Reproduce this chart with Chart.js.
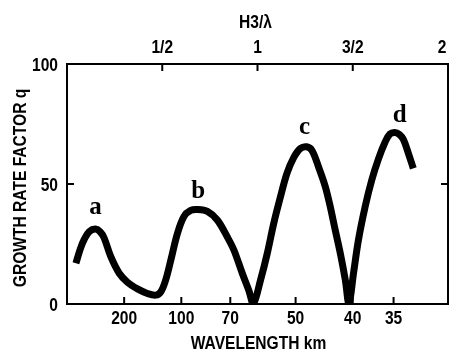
<!DOCTYPE html>
<html>
<head>
<meta charset="utf-8">
<script src="https://cdn.jsdelivr.net/npm/chart.js@4/dist/chart.umd.min.js"></script>
<style>
  html, body { margin: 0; padding: 0; background: #fff; }
</style>
</head>
<body>
<canvas id="myChart" width="451" height="354"></canvas>
<script>
//---------------DATA-------------
// scale height H3 in km, the top axis is H3/lambda
let H3 = 60;
// positions along the curve in H3/lambda, and the growth rate q there
let hx = [0.047, 0.07, 0.091, 0.117, 0.15, 0.175, 0.195, 0.23, 0.274, 0.318, 0.37, 0.422, 0.466, 0.492,
  0.518, 0.545, 0.58, 0.614, 0.649, 0.684, 0.737, 0.789, 0.841, 0.876, 0.92, 0.955, 0.978,
  1.016, 1.051, 1.085, 1.12, 1.155, 1.19, 1.225, 1.258, 1.286, 1.321, 1.356, 1.382, 1.408, 1.435, 1.461, 1.48,
  1.504, 1.53, 1.565, 1.6, 1.635, 1.67, 1.695, 1.72, 1.745, 1.766, 1.792, 1.818];
let growth = [17, 23, 27, 30.2, 31.2, 30, 27.5, 19.7, 12.8, 9, 6.3, 4.4, 3.7, 5,
  10, 18.3, 29.5, 36.5, 39, 39.4, 38.6, 35, 28, 22.5, 12.8, 5.5, 0,
  10, 21, 33.5, 44.5, 54.5, 61, 64.8, 65.5, 64, 57, 48.9, 40.5, 30.8, 21, 10, 0,
  12.8, 26.7, 40.5, 51.7, 60.5, 67.5, 70.8, 71.5, 70.6, 68.5, 62.8, 56.5];

let wavelengthTicks = [200, 100, 70, 50, 40, 35];
let topTicks = [0.5, 1, 1.5, 2];
let topTickLabels = ["1/2", "1", "3/2", "2"];
let yTicks = [0, 50, 100];
let peakLabels = ["a", "b", "c", "d"];
let xTitle = "WAVELENGTH km";
let topTitle = "H3/λ";
let yTitle = "GROWTH RATE FACTOR q";

//---------------STYLE-------------
let labelFont = "bold 19px 'Liberation Sans', Arial, sans-serif";
let squeeze = 0.82; // narrow lettering
let capHalf = 6.8;  // half the cap height, for centring caps on a point
// small nudges for the peak letters [dx, dy] in px
let letterNudge = [[0, -15], [1, -11], [-2, -13], [5, -10]];

// condensed text: x,y is the anchor on the baseline
function narrowText(ctx, text, x, y, align, rot) {
  ctx.save();
  ctx.translate(x, y);
  if (rot) ctx.rotate(rot);
  ctx.scale(squeeze, 1);
  ctx.textAlign = align;
  ctx.textBaseline = "alphabetic";
  ctx.fillText(text, 0, 0);
  ctx.restore();
}

// frame, inward tick marks, axis lettering and the peak letters
const frameTicks = {
  id: "frameTicks",
  afterDraw(chart) {
    const { ctx, chartArea: a, scales } = chart;
    ctx.save();
    ctx.strokeStyle = "#000";
    ctx.fillStyle = "#000";
    ctx.lineWidth = 2;
    ctx.strokeRect(a.left, a.top, a.right - a.left, a.bottom - a.top);
    ctx.beginPath();
    scales.x.ticks.forEach((t) => {
      let px = scales.x.getPixelForValue(t.value);
      ctx.moveTo(px, a.bottom);
      ctx.lineTo(px, a.bottom - 7);
    });
    scales.x2.ticks.forEach((t) => {
      let px = scales.x2.getPixelForValue(t.value);
      ctx.moveTo(px, a.top);
      ctx.lineTo(px, a.top + 7);
    });
    scales.y.ticks.forEach((t) => {
      let py = scales.y.getPixelForValue(t.value);
      ctx.moveTo(a.left, py);
      ctx.lineTo(a.left + 7, py);
      ctx.moveTo(a.right, py);
      ctx.lineTo(a.right - 7, py);
    });
    ctx.stroke();

    // tick labels
    ctx.font = labelFont;
    scales.x.ticks.forEach((t, i) => {
      narrowText(ctx, String(wavelengthTicks[i]), scales.x.getPixelForValue(t.value), a.bottom + 13 + capHalf, "center");
    });
    scales.x2.ticks.forEach((t, i) => {
      // keep the last label inside the canvas
      let px = Math.min(scales.x2.getPixelForValue(t.value), a.right - 6);
      narrowText(ctx, topTickLabels[i], px, a.top - 17.5 + capHalf, "center");
    });
    scales.y.ticks.forEach((t) => {
      narrowText(ctx, String(t.value), a.left - 9, scales.y.getPixelForValue(t.value) + capHalf, "right");
    });

    // axis titles
    let mid = (a.left + a.right) / 2;
    narrowText(ctx, xTitle, mid + 1, chart.height - 12 + capHalf, "center");
    narrowText(ctx, topTitle, mid - 2, 21.5 + capHalf, "center");
    narrowText(ctx, yTitle, 19 + capHalf, (a.top + a.bottom) / 2 + 4, "center", -Math.PI / 2);

    // letter above each hump
    let pts = chart.getDatasetMeta(0).data;
    let k = 0;
    ctx.font = "bold 25px 'Liberation Serif', 'DejaVu Serif', serif";
    ctx.textAlign = "center";
    ctx.textBaseline = "alphabetic";
    for (let i = 1; i < growth.length - 1 && k < peakLabels.length; i++) {
      if (growth[i] > growth[i - 1] && growth[i] >= growth[i + 1]) {
        ctx.fillText(peakLabels[k], pts[i].x + letterNudge[k][0], pts[i].y + letterNudge[k][1]);
        k++;
      }
    }
    ctx.restore();
  },
};

// axis boxes have fixed sizes, the lettering is drawn by frameTicks
function fixedBox(w, h) {
  return (s) => {
    if (w !== null) s.width = w;
    if (h !== null) s.height = h;
    s.paddingLeft = s.paddingRight = s.paddingTop = s.paddingBottom = 0;
  };
}

//---------------CHART-------------
let ctx = document.getElementById("myChart").getContext("2d");
let myChart = new Chart(ctx, {
  type: "line",
  data: {
    datasets: [
      {
        data: hx.map((v, i) => ({ x: v, y: growth[i] })),
        borderColor: "#000",
        borderWidth: 7,
        borderJoinStyle: "round",
        borderCapStyle: "butt",
        pointRadius: 0,
        fill: false,
        tension: 0.35,
      },
    ],
  },
  options: {
    responsive: false,
    animation: false,
    layout: { padding: { left: 0, right: 3, top: 0, bottom: 0 } },
    plugins: { legend: { display: false }, tooltip: { enabled: false } },
    scales: {
      x: {
        type: "linear",
        position: "bottom",
        min: 0,
        max: 2,
        grid: { display: false, drawTicks: false },
        border: { display: false },
        afterBuildTicks: (s) => { s.ticks = wavelengthTicks.map((w) => ({ value: H3 / w })); },
        ticks: { display: false },
        afterFit: fixedBox(null, 50),
      },
      x2: {
        type: "linear",
        position: "top",
        min: 0,
        max: 2,
        grid: { display: false, drawTicks: false },
        border: { display: false },
        afterBuildTicks: (s) => { s.ticks = topTicks.map((v) => ({ value: v })); },
        ticks: { display: false },
        afterFit: fixedBox(null, 64),
      },
      y: {
        type: "linear",
        min: 0,
        max: 100,
        grid: { display: false, drawTicks: false },
        border: { display: false },
        afterBuildTicks: (s) => { s.ticks = yTicks.map((v) => ({ value: v })); },
        ticks: { display: false },
        afterFit: fixedBox(67, null),
      },
    },
  },
  plugins: [frameTicks],
});
</script>
</body>
</html>
